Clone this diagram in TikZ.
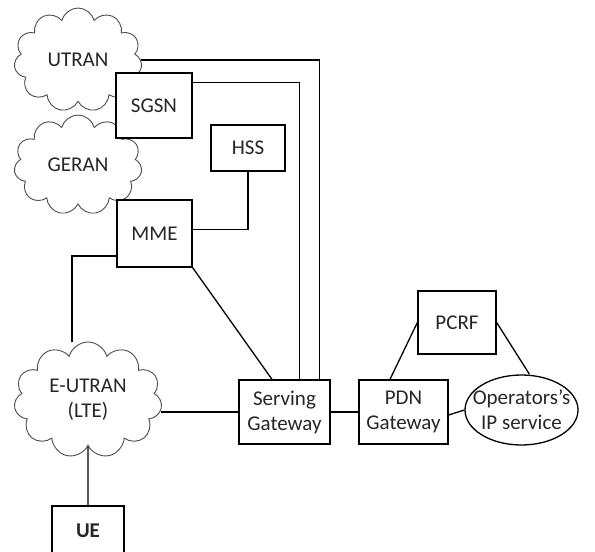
\documentclass[tikz,border=0pt]{standalone}
\usepackage{fontspec}
\setmainfont{Carlito}
\usetikzlibrary{shapes.symbols,shapes.geometric}

\begin{document}
\begin{tikzpicture}[
    x=1pt, y=-1pt,
    txt/.style={font=\fontsize{21}{25}\selectfont, text=black!85},
    box/.style={txt, draw, fill=white, line width=1.3pt, align=center, inner sep=2pt},
    net/.style={txt, cloud, cloud puffs=11, cloud ignores aspect, draw=black!70, line width=0.9pt, fill=white, align=center, inner sep=0pt},
    svc/.style={txt, ellipse, draw, line width=1.3pt, align=center, inner xsep=-11pt, inner ysep=0pt},
    link/.style={line width=1.3pt}
  ]

  % page frame, the UE box runs off the bottom edge
  \clip (0,0) rectangle (595,552);

  % radio access networks
  \node[net, minimum width=128, minimum height=104] (utran) at (78,60) {UTRAN};
  \node[net, minimum width=128, minimum height=100] (geran) at (78,165) {GERAN};
  \node[net, minimum width=148, minimum height=116] (eutran) at (88,400) {E-UTRAN\\(LTE)};

  % core boxes
  \node[box, minimum width=76, minimum height=65] (sgsn) at (154,105.5) {SGSN};
  \node[box, minimum width=74, minimum height=46] (hss) at (248,148) {HSS};
  \node[box, minimum width=75, minimum height=67] (mme) at (154.5,233.5) {MME};
  \node[box, minimum width=91, minimum height=64] (sgw) at (284.5,412) {Serving\\Gateway};
  \node[box, minimum width=89, minimum height=64] (pdn) at (403.5,412) {PDN\\Gateway};
  \node[box, minimum width=78, minimum height=63] (pcrf) at (457,322.5) {PCRF};
  \node[svc, minimum width=113, minimum height=70] (ipsvc) at (521.5,410) {Operators's\\IP service};
  \node[box, minimum width=72, minimum height=50, font=\fontsize{21}{25}\selectfont\bfseries] (ue) at (88,531) {UE};

  % long runs down to the serving gateway
  \draw[link] (utran.east) -| ([xshift=-11pt]sgw.north east);
  \draw[link] ([yshift=-10pt]sgsn.north east) -| ([xshift=-31pt]sgw.north east);

  % MME links
  \draw[link] (hss.south) |- ([yshift=4pt]mme.east);
  \draw[link] ([yshift=-22.5pt]mme.west) -| ([xshift=-16pt]eutran.north);
  \draw[link] (mme.south east) -- ([xshift=-12.5pt]sgw.north);

  % user plane
  \draw[link] (eutran.east |- sgw.west) -- (sgw.west);
  \draw[link] (eutran.south) -- (ue.north);
  \draw[link] (sgw.east) -- (pdn.west);
  \draw[link] ([yshift=-3pt]pdn.east) -- (ipsvc.west);

  % policy control
  \draw[link] (pcrf.west) -- ([xshift=-13.5pt]pdn.north);
  \draw[link] (pcrf.east) -- ([xshift=8pt]ipsvc.north);

\end{tikzpicture}
\end{document}
